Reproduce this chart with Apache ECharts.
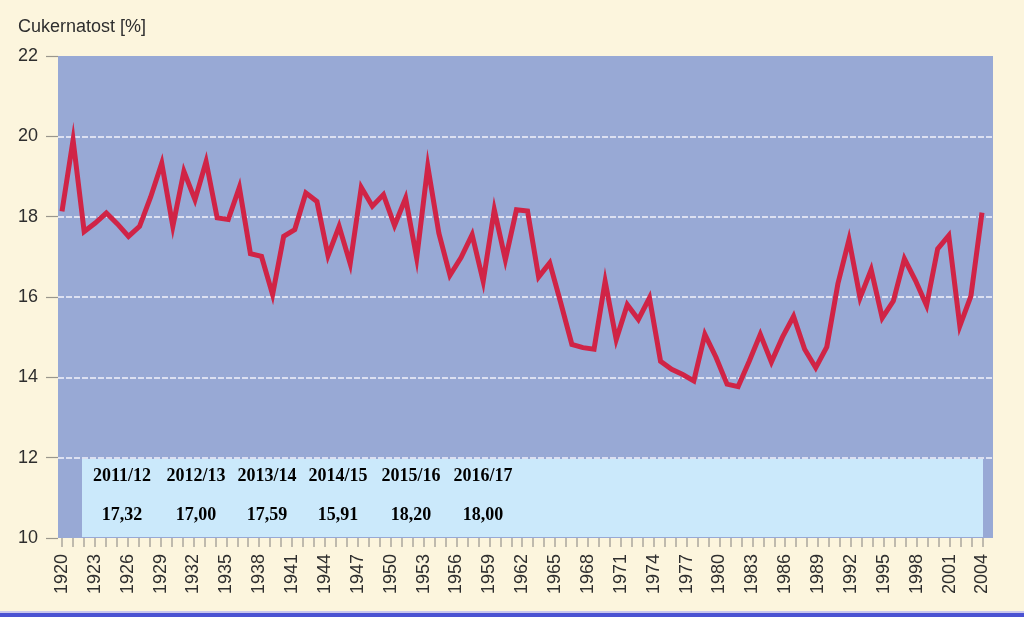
<!DOCTYPE html>
<html>
<head>
<meta charset="utf-8">
<script src="https://cdn.jsdelivr.net/npm/echarts@6/dist/echarts.min.js"></script>
<style>
html,body{margin:0;padding:0;background:#fcf5dd;}
#chart{width:1024px;height:617px;}
</style>
</head>
<body>
<div id="chart"></div>
<script>
// ---- data ----
const yAxisTitle = 'Cukernatost [%]';
const years = [1920,1921,1922,1923,1924,1925,1926,1927,1928,1929,
  1930,1931,1932,1933,1934,1935,1936,1937,1938,1939,
  1940,1941,1942,1943,1944,1945,1946,1947,1948,1949,
  1950,1951,1952,1953,1954,1955,1956,1957,1958,1959,
  1960,1961,1962,1963,1964,1965,1966,1967,1968,1969,
  1970,1971,1972,1973,1974,1975,1976,1977,1978,1979,
  1980,1981,1982,1983,1984,1985,1986,1987,1988,1989,
  1990,1991,1992,1993,1994,1995,1996,1997,1998,1999,
  2000,2001,2002,2003];
const sugar = [18.13,19.91,17.63,17.84,18.09,17.82,17.51,17.76,18.49,19.33,
  17.76,19.13,18.42,19.37,17.97,17.93,18.73,17.08,17.01,16.06,
  17.51,17.68,18.59,18.38,17.03,17.76,16.83,18.73,18.26,18.55,
  17.78,18.46,16.97,19.25,17.59,16.54,16.98,17.55,16.39,18.17,
  16.93,18.17,18.14,16.50,16.85,15.85,14.82,14.74,14.70,16.39,
  14.94,15.81,15.44,15.98,14.40,14.20,14.07,13.91,15.07,14.50,
  13.83,13.77,14.40,15.07,14.38,15.00,15.52,14.70,14.24,14.76,
  16.33,17.43,15.98,16.68,15.48,15.90,16.95,16.41,15.79,17.20,
  17.53,15.28,16.02,18.10];
const xTickYears = [1920,1921,1922,1923,1924,1925,1926,1927,1928,1929,
  1930,1931,1932,1933,1934,1935,1936,1937,1938,1939,
  1940,1941,1942,1943,1944,1945,1946,1947,1948,1949,
  1950,1951,1952,1953,1954,1955,1956,1957,1958,1959,
  1960,1961,1962,1963,1964,1965,1966,1967,1968,1969,
  1970,1971,1972,1973,1974,1975,1976,1977,1978,1979,
  1980,1981,1982,1983,1984,1985,1986,1987,1988,1989,
  1990,1991,1992,1993,1994,1995,1996,1997,1998,1999,
  2000,2001,2002,2003,2004];
const xLabelYears = [1920,1923,1926,1929,1932,1935,1938,1941,1944,1947,
  1950,1953,1956,1959,1962,1965,1968,1971,1974,1977,
  1980,1983,1986,1989,1992,1995,1998,2001,2004];
const yTicks = [10,12,14,16,18,20,22];
const seasons = ['2011/12','2012/13','2013/14','2014/15','2015/16','2016/17'];
const seasonValues = ['17,32','17,00','17,59','15,91','18,20','18,00'];

// ---- layout ----
const seasonX = [122,196,267,338,411,483];
const axisFont = '"Liberation Sans", Arial, sans-serif';
const tableFont = 'bold 18px "Liberation Serif", "Times New Roman", serif';

const graphics = [
  {type:'rect', left:0, top:613, shape:{width:1024, height:4}, style:{fill:'#4a52d2'}, z:1},
  {type:'rect', left:0, top:611, shape:{width:1024, height:2}, style:{fill:'#c9c6ee'}, z:1},
  {type:'text', left:18, top:18, style:{text:yAxisTitle, font:'18px ' + axisFont, fill:'#2e2e2e'}, z:5},
  {type:'rect', left:82, top:459, shape:{width:901, height:78}, style:{fill:'#cbe9fb'}, z:3}
];
seasons.forEach((s, i) => {
  graphics.push({type:'text', x:seasonX[i], y:476, z:6,
    style:{text:s, font:tableFont, fill:'#000', align:'center', verticalAlign:'middle'}});
  graphics.push({type:'text', x:seasonX[i], y:515, z:6,
    style:{text:seasonValues[i], font:tableFont, fill:'#000', align:'center', verticalAlign:'middle'}});
});

const chart = echarts.init(document.getElementById('chart'), null, {renderer:'canvas'});
chart.setOption({
  backgroundColor:'#fcf5dd',
  animation:false,
  grid:[
    {left:58, right:31, top:56, bottom:79, show:true, backgroundColor:'#98a9d5', borderWidth:0},
    {left:62, right:42, top:56, bottom:79}
  ],
  xAxis:[
    {type:'value', gridIndex:0, min:1919.64, max:2004.96,
      axisLine:{show:false},
      axisTick:{show:true, customValues:xTickYears, length:9, lineStyle:{color:'#aaa79d', width:1.5}},
      axisLabel:{show:true, customValues:xLabelYears, rotate:90, margin:16,
        fontSize:18, fontFamily:axisFont, color:'#2e2e2e', formatter: v => String(v)},
      splitLine:{show:false}},
    {type:'category', gridIndex:1, data:years, boundaryGap:false, show:false}
  ],
  yAxis:[
    {type:'value', gridIndex:0, min:10, max:22, interval:2,
      axisLine:{show:false},
      axisTick:{show:true, length:12, lineStyle:{color:'#9a968c', width:1.2}},
      axisLabel:{margin:20, fontSize:18, fontFamily:axisFont, color:'#2e2e2e'},
      splitLine:{show:true, showMinLine:false, showMaxLine:false,
        lineStyle:{color:'#f2f2fa', width:1.6, type:[6,2]}}},
    {type:'value', gridIndex:1, min:10, max:22, show:false}
  ],
  graphic: graphics,
  series:[{
    type:'line', xAxisIndex:1, yAxisIndex:1, data:sugar,
    symbol:'none', z:4,
    lineStyle:{color:'#d02446', width:5, join:'miter'}
  }]
});
</script>
</body>
</html>
